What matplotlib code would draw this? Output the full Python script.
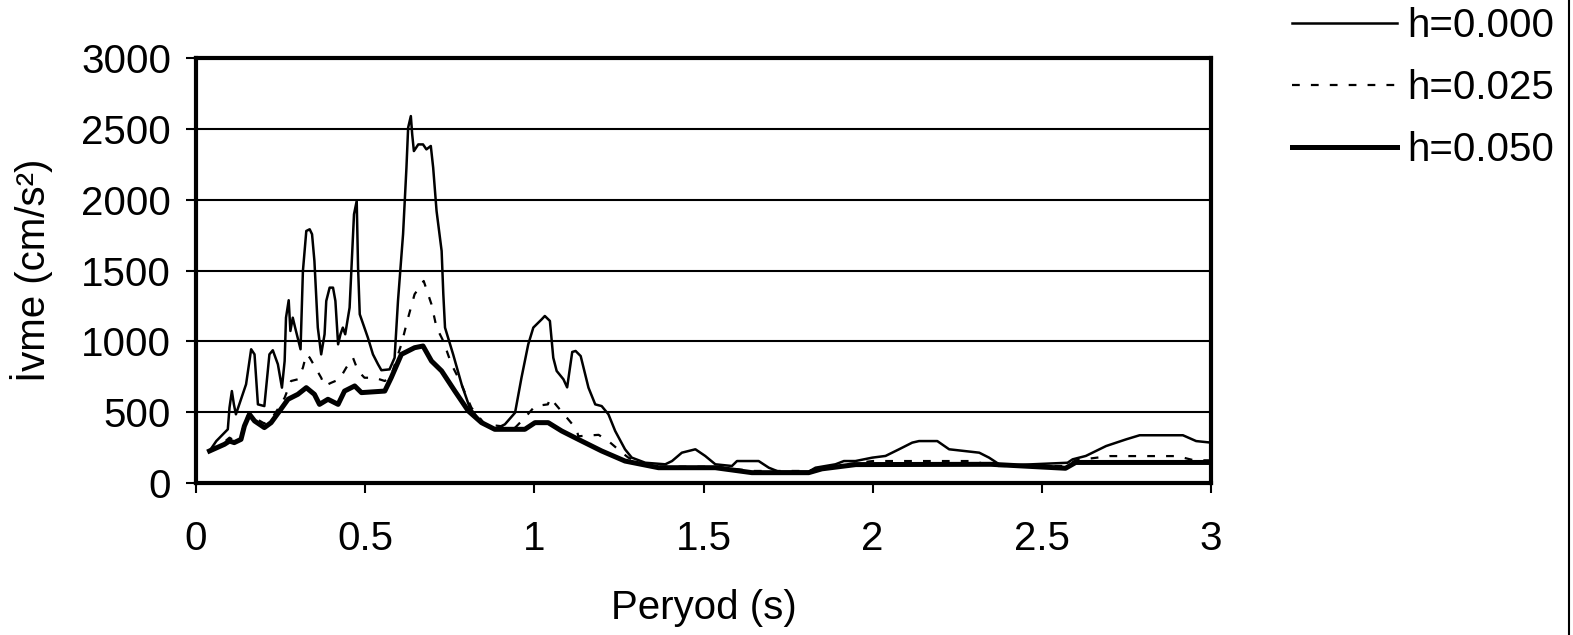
import matplotlib
matplotlib.use("Agg")
import matplotlib.pyplot as plt
from matplotlib.lines import Line2D

plt.rcParams['font.family'] = ['Liberation Sans', 'DejaVu Sans']

# h=0.000
t0 = [0.04, 0.06, 0.094, 0.099, 0.106, 0.112, 0.118, 0.148, 0.163, 0.173, 0.183, 0.202, 0.217, 0.227,
      0.242, 0.254, 0.262, 0.266, 0.274, 0.279, 0.286, 0.293, 0.303, 0.309, 0.316, 0.326, 0.336, 0.343,
      0.350, 0.360, 0.370, 0.380, 0.385, 0.395, 0.405, 0.412, 0.420, 0.427, 0.434, 0.441, 0.454, 0.467,
      0.475, 0.479, 0.484, 0.508, 0.523, 0.538, 0.548, 0.572, 0.587, 0.597, 0.612, 0.622, 0.627, 0.635,
      0.639, 0.644, 0.657, 0.671, 0.681, 0.694, 0.701, 0.711, 0.726, 0.731, 0.736, 0.760, 0.785, 0.809,
      0.844, 0.883, 0.913, 0.943, 0.962, 0.982, 0.997, 1.022, 1.031, 1.046, 1.056, 1.066, 1.086, 1.097,
      1.112, 1.122, 1.137, 1.160, 1.180, 1.199, 1.219, 1.239, 1.268, 1.288, 1.328, 1.387, 1.407, 1.436,
      1.476, 1.505, 1.535, 1.584, 1.599, 1.663, 1.693, 1.722, 1.811, 1.831, 1.890, 1.915, 1.949, 1.999,
      2.038, 2.078, 2.117, 2.137, 2.191, 2.226, 2.270, 2.315, 2.344, 2.374, 2.423, 2.576, 2.591, 2.630,
      2.690, 2.749, 2.789, 2.917, 2.956, 3.0]
a0 = [226, 296, 379, 532, 649, 555, 485, 697, 944, 908, 555, 543, 908, 937,
      838, 673, 861, 1167, 1290, 1073, 1167, 1097, 1002, 944, 1496, 1779, 1791, 1756,
      1567, 1097, 908, 1050, 1285, 1379, 1379, 1285, 979, 1050, 1097, 1050, 1238, 1897,
      1991, 1520, 1191, 1026, 908, 838, 796, 802, 884, 1285, 1756, 2226, 2508, 2590,
      2461, 2343, 2390, 2390, 2355, 2379, 2226, 1920, 1638, 1332, 1097, 908, 697, 532,
      426, 379, 414, 496, 743, 979, 1097, 1156, 1179, 1144, 884, 791, 732, 675,
      925, 932, 896, 673, 555, 543, 485, 367, 238, 179, 143, 132, 155, 214,
      238, 191, 132, 120, 155, 155, 108, 80, 80, 108, 132, 155, 155, 179,
      191, 238, 285, 296, 296, 238, 226, 214, 179, 132, 127, 143, 167, 191,
      261, 308, 337, 337, 296, 285]

# h=0.025
t1 = [0.04, 0.084, 0.099, 0.113, 0.133, 0.143, 0.158, 0.173, 0.202, 0.222, 0.247, 0.262, 0.281, 0.301,
      0.316, 0.326, 0.336, 0.370, 0.380, 0.400, 0.424, 0.444, 0.464, 0.479, 0.498, 0.528, 0.558, 0.577,
      0.607, 0.627, 0.646, 0.673, 0.696, 0.711, 0.731, 0.755, 0.780, 0.814, 0.854, 0.943, 0.972, 1.002,
      1.040, 1.047, 1.125, 1.130, 1.190, 1.219, 1.259, 1.278, 1.308, 1.367, 1.535, 1.643, 1.811, 1.85,
      1.95, 2.0, 2.3, 2.35, 2.57, 2.6, 2.7, 2.9, 2.95, 3.0]
a1 = [230, 290, 320, 300, 330, 430, 500, 460, 420, 450, 540, 602, 720, 732,
      814, 908, 885, 743, 685, 708, 732, 814, 884, 791, 743, 743, 720, 760,
      979, 1167, 1332, 1426, 1261, 1097, 1002, 838, 720, 532, 414, 390, 461, 543,
      555, 600, 379, 330, 340, 296, 214, 179, 140, 115, 115, 85, 85, 110,
      140, 155, 155, 120, 120, 160, 190, 190, 160, 160]

# h=0.050
t2 = [0.04, 0.084, 0.099, 0.113, 0.133, 0.143, 0.158, 0.173, 0.202, 0.222, 0.247, 0.272, 0.301, 0.326,
      0.350, 0.365, 0.390, 0.420, 0.439, 0.469, 0.489, 0.558, 0.577, 0.607, 0.646, 0.671, 0.696, 0.726,
      0.765, 0.805, 0.844, 0.883, 0.972, 1.002, 1.041, 1.081, 1.120, 1.140, 1.199, 1.268, 1.308, 1.367,
      1.535, 1.643, 1.811, 1.85, 1.95, 2.35, 2.57, 2.6, 3.0]
a2 = [226, 273, 296, 285, 308, 402, 485, 438, 391, 426, 508, 591, 626, 673,
      626, 555, 591, 555, 649, 685, 638, 649, 743, 908, 955, 967, 861, 791,
      649, 508, 426, 379, 379, 426, 426, 367, 320, 296, 226, 155, 136, 108,
      108, 73, 73, 100, 130, 132, 104, 145, 145]

labels = ['h=0.000', 'h=0.025', 'h=0.050']
xticks = [0, 0.5, 1, 1.5, 2, 2.5, 3]
yticks = [0, 500, 1000, 1500, 2000, 2500, 3000]

fig = plt.figure(figsize=(15.73, 6.35), dpi=100)
ax = fig.add_axes([196 / 1573, 1 - 483 / 635, (1211 - 196) / 1573, (483 - 58) / 635])

ax.plot(t0, a0, color='black', lw=1.8, label=labels[0])
ax.plot(t1, a1, color='black', lw=1.6, dashes=(3.5, 5), label=labels[1])
ax.plot(t2, a2, color='black', lw=3.6, label=labels[2])

ax.set_xlim(0, 3)
ax.set_ylim(0, 3000)
ax.set_xticks(xticks)
ax.set_xticklabels(['0', '0.5', '1', '1.5', '2', '2.5', '3'])
ax.set_yticks(yticks)
ax.yaxis.grid(True, color='black', lw=1.5)
ax.set_axisbelow(True)
for s in ax.spines.values():
    s.set_linewidth(3)
ax.tick_params(axis='both', labelsize=29, width=1.5, length=7, direction='out')
ax.tick_params(axis='x', pad=20)
ax.tick_params(axis='y', pad=11)

ax.set_xlabel('Peryod (s)', fontsize=29, labelpad=22)
ax.set_ylabel('İvme (cm/s²)', fontsize=29, labelpad=20)

fig.legend(loc='upper left', bbox_to_anchor=(1292 / 1573, 1 - 7 / 635), frameon=False, fontsize=29,
           handlelength=2.6, handletextpad=0.25, labelspacing=0.6, borderpad=0, borderaxespad=0)

fig.add_artist(Line2D([1569 / 1573, 1569 / 1573], [0, 1], color='black', lw=1.5))

fig.savefig('out.png', dpi=100)
